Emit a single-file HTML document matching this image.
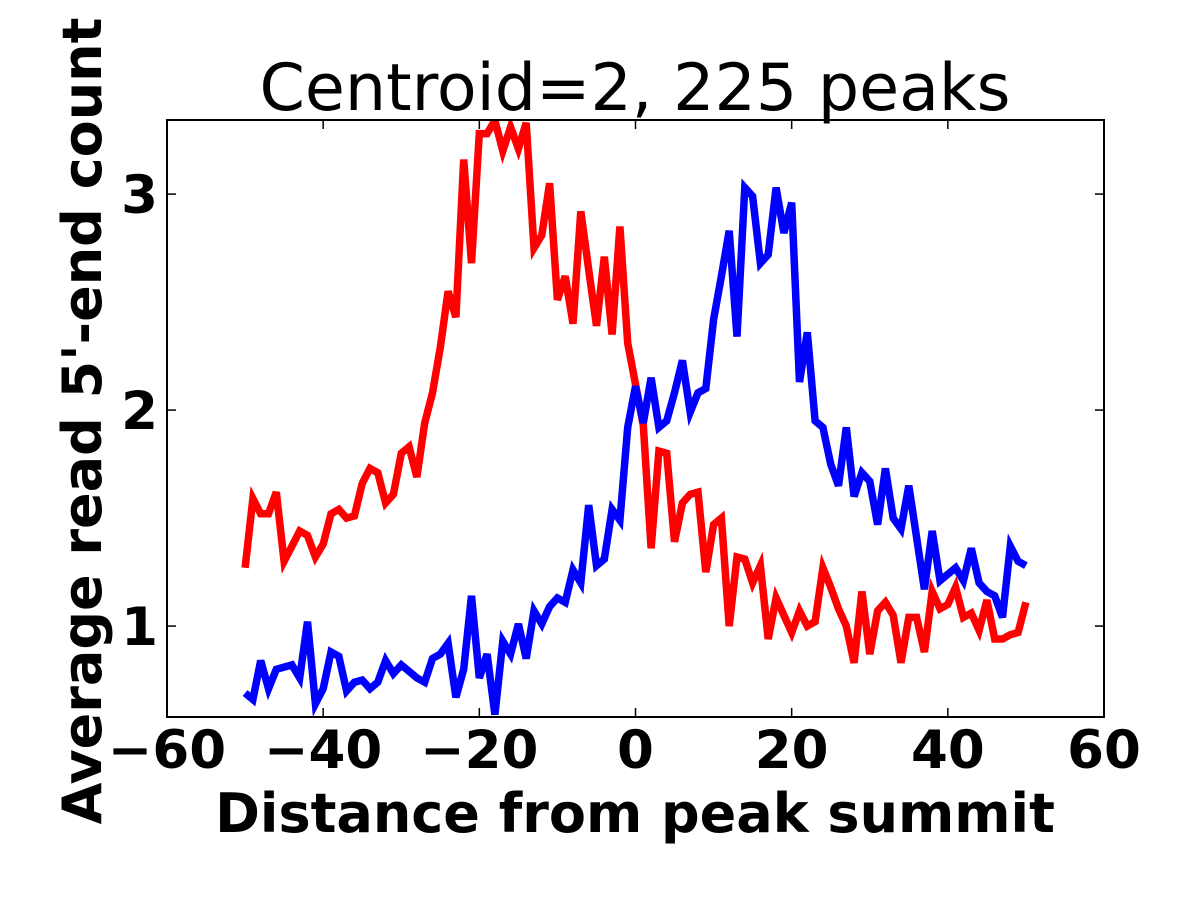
<!DOCTYPE html>
<html><head><meta charset="utf-8"><style>
html,body{margin:0;padding:0;background:#fff;}
svg{display:block;font-family:"DejaVu Sans","Liberation Sans",sans-serif;}
</style></head><body>
<svg id="chart" width="1200" height="900" xmlns="http://www.w3.org/2000/svg"></svg>
<script>
const xTicks=[-60,-40,-20,0,20,40,60];
const yTicks=[1,2,3];
const xs=[];for(let i=-50;i<=50;i++)xs.push(i);
const redVals=[1.27,1.59,1.52,1.52,1.62,1.30,1.37,1.44,1.42,1.32,1.38,1.52,1.54,1.50,1.51,1.66,1.73,1.71,1.57,1.61,1.80,1.83,1.69,1.94,2.08,2.29,2.55,2.43,3.16,2.68,3.28,3.28,3.34,3.20,3.31,3.21,3.33,2.75,2.81,3.05,2.51,2.62,2.40,2.92,2.65,2.39,2.71,2.35,2.85,2.31,2.12,1.93,1.36,1.81,1.80,1.39,1.57,1.61,1.62,1.25,1.47,1.50,1.0,1.32,1.31,1.20,1.28,0.94,1.13,1.05,0.97,1.07,1.0,1.02,1.27,1.18,1.08,1.0,0.83,1.16,0.87,1.07,1.11,1.05,0.83,1.04,1.04,0.88,1.16,1.08,1.10,1.18,1.04,1.06,0.98,1.12,0.94,0.94,0.96,0.97,1.11];
const blueVals=[0.69,0.66,0.84,0.71,0.80,0.81,0.82,0.76,1.02,0.64,0.71,0.88,0.86,0.70,0.74,0.75,0.71,0.74,0.84,0.78,0.82,0.79,0.76,0.74,0.85,0.87,0.92,0.67,0.80,1.14,0.76,0.87,0.59,0.93,0.87,1.01,0.85,1.07,1.01,1.09,1.13,1.11,1.26,1.20,1.56,1.28,1.31,1.54,1.49,1.92,2.11,1.94,2.15,1.92,1.95,2.08,2.23,1.99,2.08,2.10,2.42,2.62,2.83,2.34,3.03,2.99,2.68,2.72,3.03,2.82,2.96,2.13,2.36,1.95,1.92,1.75,1.65,1.92,1.60,1.71,1.67,1.47,1.73,1.50,1.45,1.65,1.41,1.17,1.44,1.21,1.24,1.27,1.21,1.36,1.20,1.16,1.14,1.04,1.37,1.30,1.28];

const L=167,R=1104,T=120,B=717;
const xMin=-60,xMax=60,yMin=0.579,yMax=3.343;
const X=v=>L+(v-xMin)/(xMax-xMin)*(R-L);
const Y=v=>B-(v-yMin)/(yMax-yMin)*(B-T);
const NS="http://www.w3.org/2000/svg";
const svg=document.getElementById('chart');
function mk(tag,attrs,parent){const e=document.createElementNS(NS,tag);for(const k in attrs)e.setAttribute(k,attrs[k]);(parent||svg).appendChild(e);return e;}

const clip=mk('clipPath',{id:'pc'});mk('rect',{x:L,y:T,width:R-L,height:B-T},clip);

function series(vals,color,name){
  const d=vals.map((v,i)=>(i?'L':'M')+X(xs[i]).toFixed(1)+','+Y(v).toFixed(1)).join(' ');
  const p=mk('path',{d:d,fill:'none',stroke:color,'stroke-width':7.5,'stroke-linejoin':'miter','clip-path':'url(#pc)'});
  
  
}
series(redVals,'#ff0000','red-series-line');
series(blueVals,'#0000ff','blue-series-line');

const frame=mk('rect',{x:L,y:T,width:R-L,height:B-T,fill:'none',stroke:'#000','stroke-width':2});



xTicks.forEach(t=>{
  const x=X(t);
  mk('line',{x1:x,y1:B,x2:x,y2:B-9,stroke:'#000','stroke-width':1.5});
  mk('line',{x1:x,y1:T,x2:x,y2:T+9,stroke:'#000','stroke-width':1.5});
  const tx=mk('text',{x:x,y:768,'text-anchor':'middle','font-size':53,'font-weight':'bold'});
  tx.textContent=(t<0?'\u2212'+(-t):String(t));
  
  
});
yTicks.forEach(t=>{
  const y=Y(t);
  mk('line',{x1:L,y1:y,x2:L+9,y2:y,stroke:'#000','stroke-width':1.5});
  mk('line',{x1:R,y1:y,x2:R-9,y2:y,stroke:'#000','stroke-width':1.5});
  const tx=mk('text',{x:158,y:y+19,'text-anchor':'end','font-size':53,'font-weight':'bold'});
  tx.textContent=String(t);
  
  
});

const title=mk('text',{x:635,y:110,'text-anchor':'middle','font-size':65});
title.textContent='Centroid=2, 225 peaks';



const xl=mk('text',{x:635,y:832,'text-anchor':'middle','font-size':54,'font-weight':'bold'});
xl.textContent='Distance from peak summit';



const yl=mk('text',{x:0,y:0,'text-anchor':'middle','font-size':54,'font-weight':'bold',transform:'translate(101,421) rotate(-90)'});
yl.textContent="Average read 5'-end count";


</script>
</body></html>
